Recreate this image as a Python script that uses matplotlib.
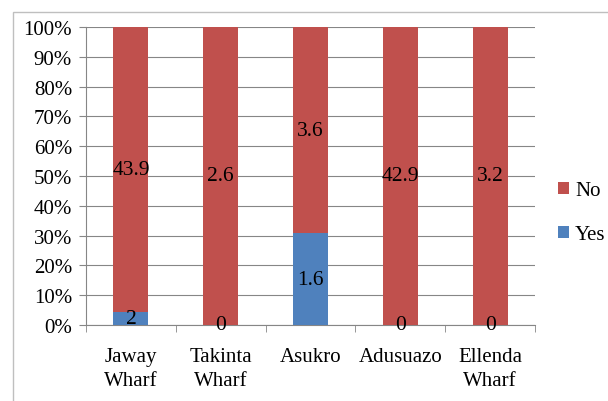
import matplotlib
matplotlib.use("Agg")
from matplotlib import pyplot as plt
from matplotlib.patches import Rectangle
import numpy as np

plt.rcParams["font.family"] = ["Liberation Serif", "DejaVu Serif"]

# data
sites = ["Jaway\nWharf", "Takinta\nWharf", "Asukro", "Adusuazo", "Ellenda\nWharf"]
yes_vals = [2, 0, 1.6, 0, 0]
no_vals = [43.9, 2.6, 3.6, 42.9, 3.2]
yes_label = "Yes"
no_label = "No"
red = "#C0504D"
blue = "#4F81BD"

yes = np.array(yes_vals, dtype=float)
no = np.array(no_vals, dtype=float)
tot = yes + no
yes_pct = yes / tot * 100
no_pct = no / tot * 100
x = np.arange(len(sites))

fig = plt.figure(figsize=(6.08, 4.02), dpi=100)
ax = fig.add_axes([86 / 608, 1 - 326 / 402, (535 - 86) / 608, (326 - 28) / 402])

# outer chart frame
fig.patches.append(Rectangle((13 / 608, -0.1), 1.0, 1 - 13 / 402 + 0.1,
                             transform=fig.transFigure, fill=False,
                             edgecolor="#bfbfbf", lw=1.0))

ax.bar(x, yes_pct, width=0.39, color=blue, zorder=3, label=yes_label)
ax.bar(x, no_pct, width=0.39, bottom=yes_pct, color=red, zorder=3, label=no_label)

# data labels
for i in range(len(sites)):
    ax.text(x[i], yes_pct[i] / 2, "%g" % yes[i], ha="center", va="center",
            fontsize=15.5, zorder=4)
    ax.text(x[i], yes_pct[i] + no_pct[i] / 2, "%g" % no[i], ha="center",
            va="center", fontsize=15.5, zorder=4)

ax.set_xlim(-0.5, len(sites) - 0.5)
ax.set_ylim(0, 100)
ax.set_yticks(np.arange(0, 101, 10))
ax.set_yticklabels(["%d%%" % v for v in range(0, 101, 10)], fontsize=15)
ax.set_xticks(x)
ax.set_xticklabels(sites, fontsize=15, linespacing=1.35)
ax.set_xticks(np.arange(-0.5, len(sites), 1), minor=True)
ax.tick_params(axis="x", which="major", length=0, pad=16)
ax.tick_params(axis="x", which="minor", length=5, color="#868686")
ax.tick_params(axis="y", length=5, color="#868686", pad=5)
ax.yaxis.grid(True, color="#868686", lw=0.8, zorder=0)

for s in ["top", "right"]:
    ax.spines[s].set_visible(False)
ax.spines["left"].set_color("#868686")
ax.spines["bottom"].set_color("#868686")

handles, labels = ax.get_legend_handles_labels()
fig.legend(handles[::-1], labels[::-1], loc="upper left",
           bbox_to_anchor=(552 / 608, 1 - 176 / 402), frameon=False,
           fontsize=15, handlelength=0.5, handleheight=0.5,
           handletextpad=0.3, labelspacing=1.2, borderaxespad=0,
           borderpad=0.3)

fig.savefig("out.png", dpi=100)
